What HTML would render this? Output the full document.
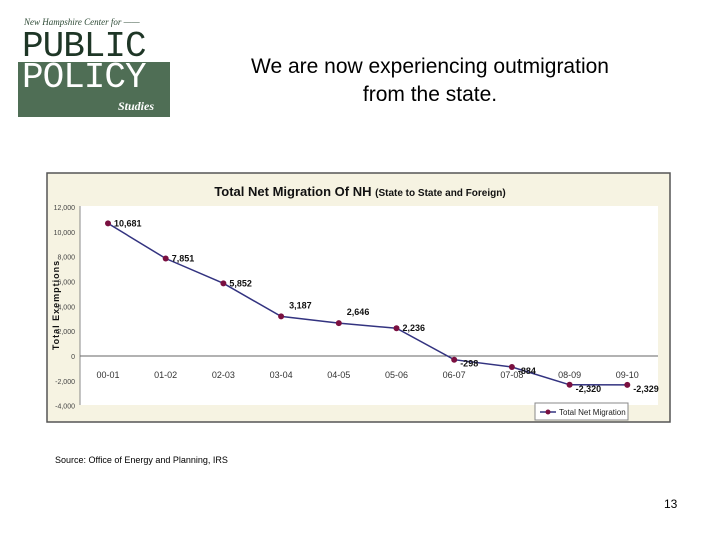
<!DOCTYPE html>
<html><head><meta charset="utf-8"><style>
body{margin:0;width:720px;height:540px;background:#fff;position:relative;font-family:"Liberation Sans",sans-serif;overflow:hidden}
.abs{position:absolute}
</style></head><body>
<div class="abs" style="left:18px;top:16px;width:152px;height:101px;">
  <div style="font-family:'Liberation Serif',serif;font-style:italic;font-size:9px;color:#2d4a35;position:absolute;left:6px;top:1px;">New Hampshire Center for ——</div>
  <div style="position:absolute;left:4px;top:13px;font-family:'Liberation Mono',monospace;font-size:36px;color:#1e3626;letter-spacing:-1px;line-height:36px;">PUBLIC</div>
  <div style="position:absolute;left:0;top:46px;width:152px;height:55px;background:#4f6e55;"></div>
  <div style="position:absolute;left:4px;top:44px;font-family:'Liberation Mono',monospace;font-size:36px;color:#fff;letter-spacing:-1px;line-height:36px;">POLICY</div>
  <div style="position:absolute;left:100px;top:83px;font-family:'Liberation Serif',serif;font-style:italic;font-weight:bold;font-size:12px;color:#fff;">Studies</div>
</div>
<div class="abs" style="left:190px;top:53px;width:480px;text-align:center;font-size:21px;line-height:28px;color:#000;">We are now experiencing outmigration<br>from the state.</div>
<svg class="abs" style="left:0;top:0" width="720" height="540">
  <rect x="47" y="173" width="623" height="249" fill="#f6f3e2" stroke="#555" stroke-width="1.5"/>
  <text x="360" y="196" text-anchor="middle" font-size="13" font-weight="bold" fill="#111">Total Net Migration Of NH <tspan font-size="10">(State to State and Foreign)</tspan></text>
  <rect x="80" y="206" width="578" height="199" fill="#fff"/>
  <text transform="translate(59,305) rotate(-90)" text-anchor="middle" font-size="9" font-weight="bold" letter-spacing="1" fill="#111">Total Exemptions</text>
  <g id="g"></g>
  <rect x="535" y="403" width="93" height="17" fill="#fff" stroke="#888"/>
  <line x1="540" y1="412" x2="556" y2="412" stroke="#333380" stroke-width="1.5"/>
  <circle cx="548" cy="412" r="2.5" fill="#7a1040"/>
  <text x="559" y="415" font-size="8" fill="#222">Total Net Migration</text>
</svg>
<div class="abs" style="left:55px;top:455px;font-size:9px;color:#000;">Source: Office of Energy and Planning, IRS</div>
<div class="abs" style="left:664px;top:497px;font-size:12px;color:#000;">13</div>
<script>
const categories=["00-01","01-02","02-03","03-04","04-05","05-06","06-07","07-08","08-09","09-10"];
const values=[10681,7851,5852,3187,2646,2236,-298,-884,-2320,-2329];
const labels=["10,681","7,851","5,852","3,187","2,646","2,236","-298","-884","-2,320","-2,329"];
const yTicks=[12000,10000,8000,6000,4000,2000,0,-2000,-4000];
const yTickLabels=["12,000","10,000","8,000","6,000","4,000","2,000","0","-2,000","-4,000"];
const NS="http://www.w3.org/2000/svg",g=document.getElementById('g');
const y=v=>356-v*(149/12000);
const x=i=>108+i*57.7;
function mk(t,a){const e=document.createElementNS(NS,t);for(const k in a)e.setAttribute(k,a[k]);g.appendChild(e);return e;}
mk('line',{x1:80,y1:206,x2:80,y2:405,stroke:'#888'});
mk('line',{x1:80,y1:y(0),x2:658,y2:y(0),stroke:'#666'});
yTicks.forEach((t,i)=>{const e=mk('text',{x:75,y:y(t)+3,'text-anchor':'end','font-size':7,fill:'#444'});e.textContent=yTickLabels[i];

});
categories.forEach((c,i)=>{const e=mk('text',{x:x(i),y:y(0)+22,'text-anchor':'middle','font-size':9,fill:'#333'});e.textContent=c;

});
const pl=mk('polyline',{points:values.map((v,i)=>x(i)+','+y(v)).join(' '),fill:'none',stroke:'#333380','stroke-width':1.5});


values.forEach((v,i)=>{const c=mk('circle',{cx:x(i),cy:y(v),r:3,fill:'#7a1040'});


const up=i>=3&&i<=4;
const t=mk('text',{x:x(i)+(up?8:6),y:up?y(v)-8:y(v)+3+(v<0?4:0),'font-size':9,'font-weight':'bold',fill:'#111'});t.textContent=labels[i];

});
</script>
</body></html>
